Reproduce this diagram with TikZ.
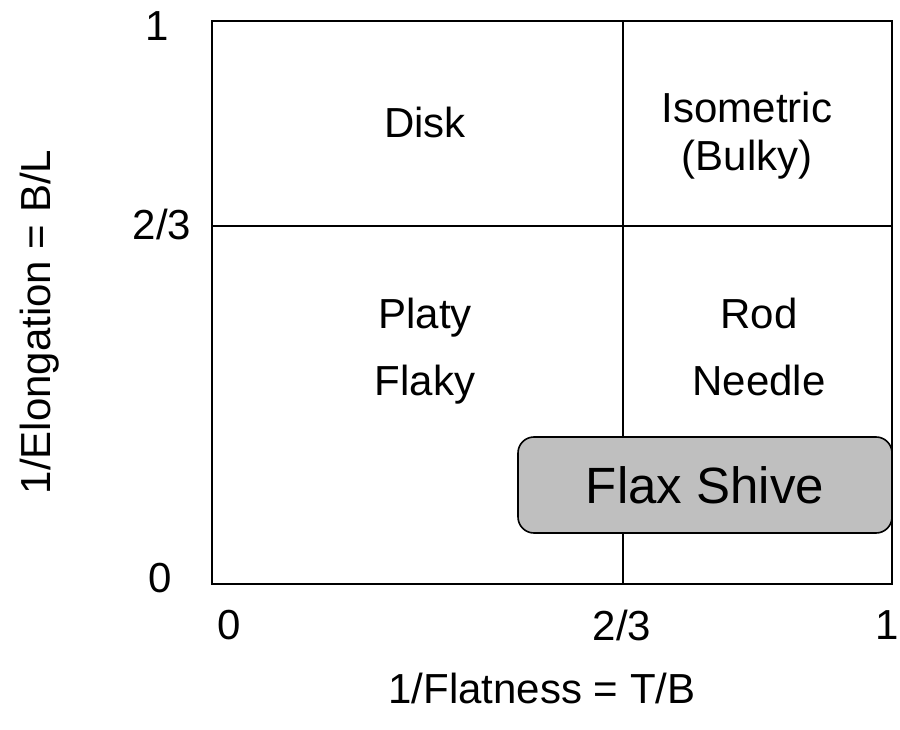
\documentclass[tikz,border=0pt]{standalone}
\usepackage{fontspec}
\setmainfont{Liberation Sans}
\usepackage{tikz}
\usetikzlibrary{positioning}

\begin{document}
\begin{tikzpicture}[x=1pt,y=-1pt, every node/.style={font=\fontsize{42}{48}\selectfont}]
    \tikzset{grid/.style={line width=1.6pt}}
    \tikzset{tick/.style={inner sep=0pt}}
    \tikzset{region/.style={align=center,inner sep=0pt,text height=30pt,text depth=9pt}}
    \tikzset{shive/.style={draw,line width=1.6pt,fill=gray!50,rounded corners=16pt,minimum width=374pt,minimum height=96pt,font=\fontsize{51}{58}\selectfont}}
    \useasboundingbox (0,0) rectangle (900,730);

    % Frame and dividers
    \draw[grid] (212,21) rectangle (892,584);
    \draw[grid] (623,21) -- (623,584);
    \draw[grid] (212,226) -- (892,226);

    % Regions
    \node[region] (disk) at (425,127) {Disk};
    \node[region] (iso) at (747,112) {Isometric};
    \node[region] (bulky) at (747,160) {(Bulky)};
    \node[region] (platy) at (425,318) {Platy};
    \node[region] (flaky) at (425,385) {Flaky};
    \node[region] (rod) at (759,318) {Rod};
    \node[region] (needle) at (759,385) {Needle};

    % Flax shive box
    \node[shive] (flax) at (705,485) {Flax Shive};

    % Tick labels
    \node[tick] (y1) at (157,26) {1};
    \node[tick] (y23) at (162,224) {2/3};
    \node[tick] (y0) at (160,578) {0};
    \node[tick] (x0) at (229,625) {0};
    \node[tick] (x23) at (622,625) {2/3};
    \node[tick] (x1) at (887,625) {1};

    % Axis titles
    \node[tick] (xtitle) at (542,688) {1/Flatness = T/B};
    \node[tick,rotate=90] (ytitle) at (40,322) {1/Elongation = B/L};
\end{tikzpicture}
\end{document}
